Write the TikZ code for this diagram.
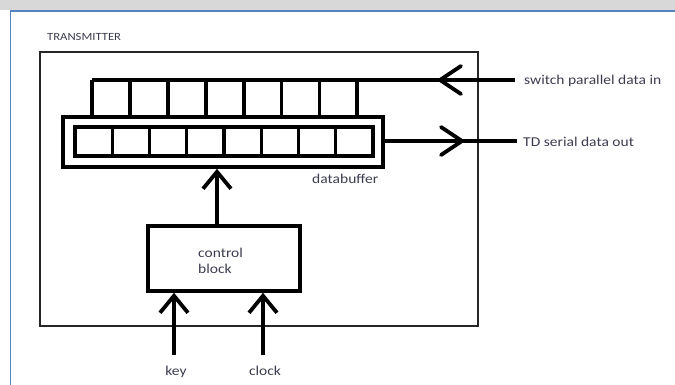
\documentclass[tikz,border=0pt]{standalone}
\usepackage{fontspec}
\setmainfont{Carlito}
\newfontfamily\lblfont[FakeStretch=1.15]{Carlito}
\usetikzlibrary{arrows.meta}
\definecolor{txt}{RGB}{60,60,80}
\definecolor{frameblue}{RGB}{85,130,195}
\definecolor{band}{RGB}{216,216,216}
\tikzset{
  thickline/.style={line width=3.8pt, line cap=butt},
  vhead/.style={line width=3.8pt, line cap=round, line join=miter},
  upar/.style={thickline, -{Straight Barb[length=17pt, width=28pt, line width=3.8pt]}},
  lbl/.style={font=\lblfont\fontsize{13.5}{16}\selectfont, text=txt, inner sep=0pt},
  cell/.style={draw, line width=3.4pt, minimum width=37.25pt, minimum height=29pt, inner sep=0pt}
}
\begin{document}
\begin{tikzpicture}[x=1pt, y=-1pt]
\useasboundingbox (0,0) rectangle (675,385);
% page decoration
\fill[band] (0,0) rectangle (675,10);
\draw[frameblue, line width=1.6pt] (10.5,385) -- (10.5,11) -- (675,11);
% outer transmitter box
\node[draw=black!85, line width=2pt, minimum width=438pt, minimum height=274pt, inner sep=0pt] (tx) at (259,189) {};
\node[lbl, font=\lblfont\fontsize{11}{13}\selectfont, anchor=base west] (txl) at (47,41) {TRANSMITTER};
% databuffer
\node[draw, line width=3.6pt, minimum width=320pt, minimum height=50pt, inner sep=0pt] (buf) at (223,142) {};
\foreach \i in {0,...,7} {
  \node[cell] (c\i) at ({75+18.625+\i*37.25},141.5) {};
}
\node[lbl, anchor=base west] (bufl) at (312,183) {databuffer};
% comb (parallel input)
\coordinate (combL) at (92,80);
\coordinate (inR) at (515,80);
\draw[thickline] (inR) -- (combL);
\foreach \i in {0,...,7} {
  \coordinate (t\i) at ({92+\i*37.9},80);
  \draw[thickline] (t\i) -- (t\i |- buf.north);
}
\coordinate (inHead) at (440,80);
\draw[vhead] ([shift={(21,-14)}]inHead) -- (inHead) -- ([shift={(21,14)}]inHead);
\node[lbl, anchor=base west] (inl) at (524,85) {switch parallel data in};
% serial output
\coordinate (outR) at (517,141);
\draw[thickline] (buf.east |- outR) -- (outR);
\coordinate (outHead) at (462,141);
\draw[vhead] ([shift={(-21,-14)}]outHead) -- (outHead) -- ([shift={(-21,14)}]outHead);
\node[lbl, anchor=base west] (outl) at (523,147) {TD serial data out};
% control block
\node[draw, line width=3.6pt, minimum width=152pt, minimum height=65pt, inner sep=0pt] (ctl) at (224,258.5) {};
\node[lbl, anchor=base west, align=left] (ctll) at (198,273) {control\\block};
\draw[upar] (217,0 |- ctl.north) -- (217,0 |- buf.south);
% inputs
\coordinate (keyS) at (174,355);
\coordinate (clkS) at (263,355);
\draw[upar] (keyS) -- (keyS |- ctl.south);
\draw[upar] (clkS) -- (clkS |- ctl.south);
\node[lbl, anchor=base] (keyl) at (176,375) {key};
\node[lbl, anchor=base] (clkl) at (265,375) {clock};
\end{tikzpicture}
\end{document}
